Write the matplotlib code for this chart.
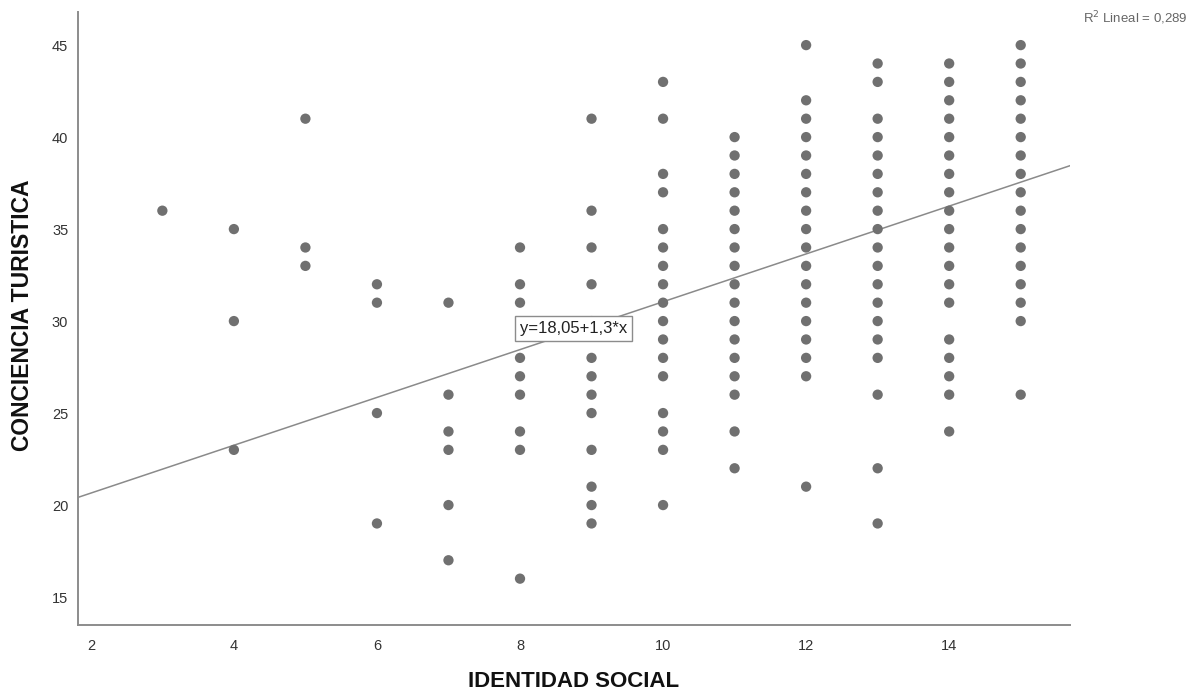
import numpy as np
import matplotlib
matplotlib.use("Agg")
import matplotlib.pyplot as plt

plt.rcParams['font.family'] = ['Liberation Sans', 'DejaVu Sans']

# IDENTIDAD SOCIAL value -> CONCIENCIA TURISTICA values seen in that column
columns = {
    3: [36],
    4: [35, 30, 23],
    5: [41, 34, 33],
    6: [32, 31, 25, 19],
    7: [31, 26, 24, 23, 20, 17],
    8: [34, 32, 31, 28, 27, 26, 24, 23, 16],
    9: [41, 36, 34, 32, 30, 28, 27, 26, 25, 23, 21, 20, 19],
    10: [43, 41, 38, 37, 35, 34, 33, 32, 31, 30, 29, 28, 27, 25, 24, 23, 20],
    11: [40, 39, 38, 37, 36, 35, 34, 33, 32, 31, 30, 29, 28, 27, 26, 24, 22],
    12: [45, 42, 41, 40, 39, 38, 37, 36, 35, 34, 33, 32, 31, 30, 29, 28, 27, 21],
    13: [44, 43, 41, 40, 39, 38, 37, 36, 35, 34, 33, 32, 31, 30, 29, 28, 26, 22, 19],
    14: [44, 43, 42, 41, 40, 39, 38, 37, 36, 35, 34, 33, 32, 31, 29, 28, 27, 26, 24],
    15: [45, 44, 43, 42, 41, 40, 39, 38, 37, 36, 35, 34, 33, 32, 31, 30, 26],
}

intercept = 18.05
slope = 1.3
r2 = 0.289

x_ticks = [2, 4, 6, 8, 10, 12, 14]
y_ticks = [15, 20, 25, 30, 35, 40, 45]

xs = []
ys = []
for k, vals in columns.items():
    for v in vals:
        xs.append(k)
        ys.append(v)

fig = plt.figure(figsize=(11.92, 6.93), dpi=100)
ax = fig.add_axes([0.0654, 0.0981, 0.8323, 0.8846])

ax.scatter(xs, ys, s=55, color='#707070', edgecolors='none', zorder=3)

xmin, xmax = 1.82, 15.69
line_x = np.array([xmin, xmax])
ax.plot(line_x, intercept + slope * line_x, color='#8a8a8a', lw=1.1, zorder=2)

ax.set_xlim(xmin, xmax)
ax.set_ylim(13.48, 46.8)

ax.set_xticks(x_ticks)
ax.set_yticks(y_ticks)
ax.tick_params(length=0, labelsize=10.5, colors='#333333')
ax.tick_params(axis='x', pad=10)
ax.tick_params(axis='y', pad=7)

for s in ['top', 'right']:
    ax.spines[s].set_visible(False)
for s in ['left', 'bottom']:
    ax.spines[s].set_color('#8c8c8c')
    ax.spines[s].set_linewidth(1.4)

ax.set_xlabel('IDENTIDAD SOCIAL', fontsize=16, fontweight='bold', color='#111111', va='center')
ax.set_ylabel('CONCIENCIA TURISTICA', fontsize=16.5, fontweight='bold', color='#111111', va='center')
ax.xaxis.set_label_coords(0.5, -0.0914)
ax.yaxis.set_label_coords(-0.0554, 0.505)

eq = 'y=' + f'{intercept:.2f}'.replace('.', ',') + '+' + f'{slope:.1f}'.replace('.', ',') + '*x'
ax.text(8.745, 29.6, eq, ha='center', va='center', fontsize=12, color='#222222', zorder=5,
        bbox=dict(boxstyle='square,pad=0.3', facecolor='white', edgecolor='#8c8c8c', lw=1))

fig.text(1188 / 1192, 1 - 18 / 693, 'R$^2$ Lineal = ' + f'{r2:.3f}'.replace('.', ','),
         ha='right', va='center', fontsize=9.5, color='#666666')

fig.savefig('out.png', dpi=100)
